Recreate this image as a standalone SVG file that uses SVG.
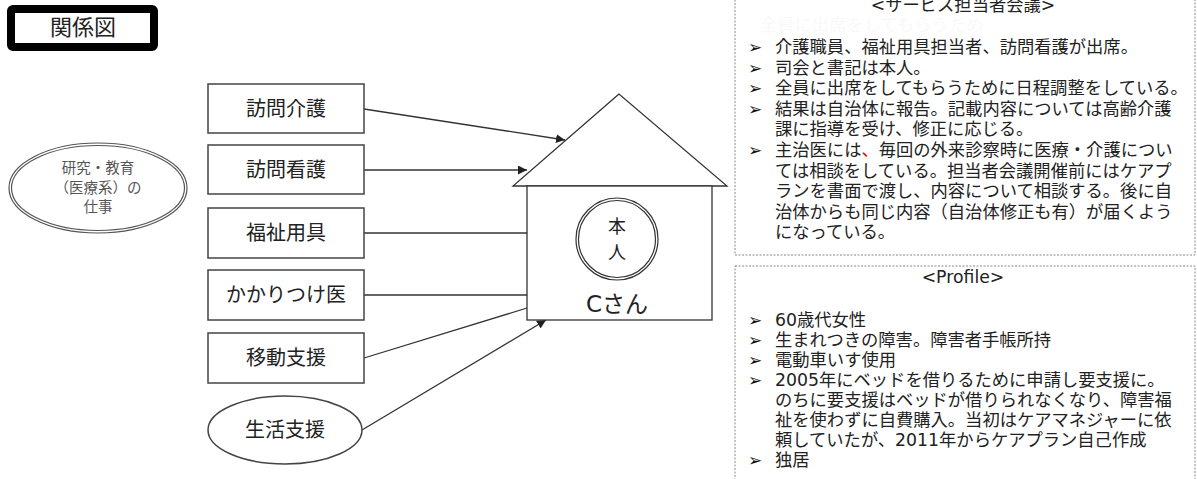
<svg xmlns="http://www.w3.org/2000/svg" width="1197" height="479" viewBox="0 0 1197 479">
<defs>
<style>
.jp{font-family:"DejaVu Sans","Noto Sans CJK JP",sans-serif;fill:#222}
.box{fill:#fff;stroke:#444;stroke-width:1.5}
.lbl{font-size:20px;text-anchor:middle;dominant-baseline:central}
.ln{stroke:#333;stroke-width:1.3;fill:none}
.dash{fill:none;stroke:#888;stroke-width:1;stroke-dasharray:2 1.5}
.t{font-size:17.3px}
.b{font-size:17px;fill:#111;font-family:"DejaVu Sans",sans-serif;font-weight:bold}
</style>
<marker id="ar" viewBox="0 0 10 10" refX="10" refY="5" markerWidth="9" markerHeight="9" markerUnits="userSpaceOnUse" orient="auto">
<path d="M0,0 L10,5 L0,10 z" fill="#222"/>
</marker>
</defs>
<rect width="1197" height="479" fill="#fff"/>

<g id="title">
<rect x="11" y="9" width="143" height="38" rx="2" fill="#fff" stroke="#000" stroke-width="8"/>
<text class="jp" x="83" y="27" font-size="22" text-anchor="middle" dominant-baseline="central">関係図</text>
</g>

<g id="connectors">
<line class="ln" x1="364" y1="109" x2="565" y2="140" marker-end="url(#ar)"/>
<line class="ln" x1="364" y1="170" x2="527" y2="170" marker-end="url(#ar)"/>
<line class="ln" x1="364" y1="233" x2="527" y2="233"/>
<line class="ln" x1="364" y1="295" x2="527" y2="295"/>
<line class="ln" x1="364" y1="358" x2="527" y2="308"/>
<line class="ln" x1="362" y1="430" x2="546" y2="320" marker-end="url(#ar)"/>
</g>

<g id="work">
<ellipse cx="98" cy="188" rx="89" ry="45" fill="#fff" stroke="#555" stroke-width="1.2"/>
<ellipse cx="98" cy="188" rx="86.5" ry="42.5" fill="none" stroke="#555" stroke-width="1.2"/>
<text class="jp" x="98" y="168" font-size="14.5" text-anchor="middle" dominant-baseline="central" style="fill:#555">研究・教育</text>
<text class="jp" x="98" y="188" font-size="14.5" text-anchor="middle" dominant-baseline="central" style="fill:#555">（医療系）の</text>
<text class="jp" x="98" y="207" font-size="14.5" text-anchor="middle" dominant-baseline="central" style="fill:#555">仕事</text>
</g>

<g id="houmon-kaigo"><rect class="box" x="208" y="84" width="156" height="49"/><text class="jp lbl" x="286" y="109">訪問介護</text></g>
<g id="houmon-kango"><rect class="box" x="208" y="145" width="156" height="49"/><text class="jp lbl" x="286" y="170">訪問看護</text></g>
<g id="fukushi"><rect class="box" x="208" y="208" width="156" height="50"/><text class="jp lbl" x="286" y="233">福祉用具</text></g>
<g id="kakaritsuke"><rect class="box" x="208" y="270" width="156" height="50"/><text class="jp lbl" x="286" y="295">かかりつけ医</text></g>
<g id="idou"><rect class="box" x="208" y="333" width="156" height="50"/><text class="jp lbl" x="286" y="358">移動支援</text></g>
<g id="seikatsu"><ellipse class="box" cx="285" cy="430" rx="77" ry="34"/><text class="jp lbl" x="285" y="430">生活支援</text></g>

<g id="house">
<polygon points="619,94 513,186 727,186" fill="#fff" stroke="#333" stroke-width="1.3"/>
<rect x="527" y="186" width="185" height="134" fill="#fff" stroke="#333" stroke-width="1.3"/>
<circle cx="617" cy="239" r="41" fill="#fff" stroke="#333" stroke-width="1.2"/>
<circle cx="617" cy="239" r="38.5" fill="none" stroke="#333" stroke-width="1.2"/>
<text class="jp" x="617" y="226" font-size="18" text-anchor="middle" dominant-baseline="central">本</text>
<text class="jp" x="617" y="252" font-size="18" text-anchor="middle" dominant-baseline="central">人</text>
<text class="jp" x="617" y="304" font-size="23" text-anchor="middle" dominant-baseline="central">Cさん</text>
</g>

<g id="meeting">
<rect class="dash" x="735" y="-10" width="460" height="265"/>
<text class="jp t" x="963" y="5" text-anchor="middle" dominant-baseline="central">&lt;サービス担当者会議&gt;</text>
<text class="jp t" x="760" y="25" dominant-baseline="central" style="fill:#f9f9f9">全員に出席をしてもらうため</text>
<g class="b">
<text x="748" y="47" dominant-baseline="central">➢</text>
<text x="748" y="67.6" dominant-baseline="central">➢</text>
<text x="748" y="88.2" dominant-baseline="central">➢</text>
<text x="748" y="108.8" dominant-baseline="central">➢</text>
<text x="748" y="150" dominant-baseline="central">➢</text>
</g>
<g class="jp t">
<text x="775" y="47" dominant-baseline="central">介護職員、福祉用具担当者、訪問看護が出席。</text>
<text x="775" y="67.6" dominant-baseline="central">司会と書記は本人。</text>
<text x="775" y="88.2" dominant-baseline="central">全員に出席をしてもらうために日程調整をしている。</text>
<text x="775" y="108.8" dominant-baseline="central">結果は自治体に報告。記載内容については高齢介護</text>
<text x="775" y="129.4" dominant-baseline="central">課に指導を受け、修正に応じる。</text>
<text x="775" y="150" dominant-baseline="central">主治医には<tspan style="fill:#e00000">、</tspan>毎回の外来診察時に医療・介護につい</text>
<text x="775" y="170.6" dominant-baseline="central">ては相談をしている。担当者会議開催前にはケアプ</text>
<text x="775" y="191.2" dominant-baseline="central">ランを書面で渡し、内容について相談する。後に自</text>
<text x="775" y="211.8" dominant-baseline="central">治体からも同じ内容（自治体修正も有）が届くよう</text>
<text x="775" y="232.4" dominant-baseline="central">になっている。</text>
</g>
</g>

<g id="profile">
<rect class="dash" x="735" y="266" width="460" height="230"/>
<text class="jp t" x="963" y="277" text-anchor="middle" dominant-baseline="central">&lt;Profile&gt;</text>
<g class="b">
<text x="748" y="320" dominant-baseline="central">➢</text>
<text x="748" y="340" dominant-baseline="central">➢</text>
<text x="748" y="360" dominant-baseline="central">➢</text>
<text x="748" y="380" dominant-baseline="central">➢</text>
<text x="748" y="460" dominant-baseline="central">➢</text>
</g>
<g class="jp t">
<text x="775" y="320" dominant-baseline="central">60歳代女性</text>
<text x="775" y="340" dominant-baseline="central">生まれつきの障害。障害者手帳所持</text>
<text x="775" y="360" dominant-baseline="central">電動車いす使用</text>
<text x="775" y="380" dominant-baseline="central">2005年にベッドを借りるために申請し要支援に。</text>
<text x="775" y="400" dominant-baseline="central">のちに要支援はベッドが借りられなくなり、障害福</text>
<text x="775" y="420" dominant-baseline="central">祉を使わずに自費購入。当初はケアマネジャーに依</text>
<text x="775" y="440" dominant-baseline="central">頼していたが、2011年からケアプラン自己作成</text>
<text x="775" y="460" dominant-baseline="central">独居</text>
</g>
</g>
</svg>
